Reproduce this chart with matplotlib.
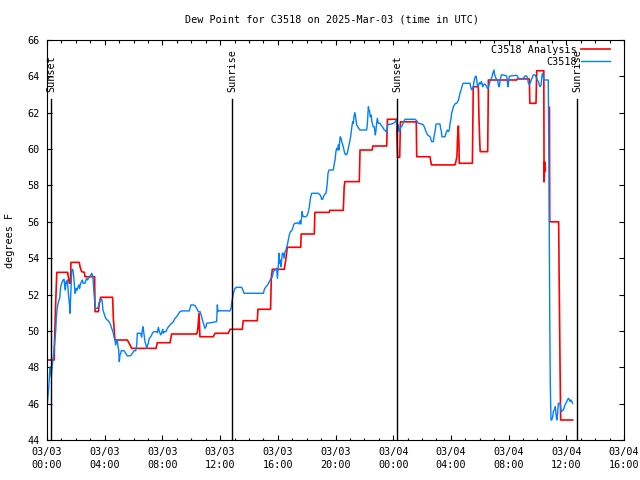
import numpy as np
import matplotlib
matplotlib.use('Agg')
import matplotlib.pyplot as plt
from matplotlib.ticker import MultipleLocator

# hours since 2025-03-03 00:00 UTC
analysis_hours = [0.0, 0.5, 0.52, 0.6, 0.68, 1.43, 1.55, 1.62, 1.66, 2.24, 2.29, 2.4, 2.59, 2.63, 3.3,
                  3.33, 3.56, 3.63, 3.72, 4.55, 4.6, 4.71, 5.57, 5.75, 5.87, 7.56, 7.65, 8.53, 8.64,
                  10.38, 10.45, 10.54, 10.6, 11.53, 11.65, 12.57, 12.69, 13.54, 13.6, 14.58, 14.62,
                  15.5, 15.55, 15.62, 16.45, 16.55, 16.66, 17.59, 17.62, 18.53, 18.57, 19.57, 19.6,
                  20.54, 20.6, 20.65, 21.65, 21.7, 22.55, 22.58, 23.55, 23.6, 24.24, 24.26, 24.3,
                  24.45, 24.5, 25.6, 25.63, 26.55, 26.65, 28.28, 28.32, 28.42, 28.46, 28.52, 28.56,
                  28.58, 29.49, 29.55, 29.9, 29.95, 30.0, 30.03, 30.55, 30.6, 32.56, 32.6, 33.44,
                  33.47, 33.9, 33.95, 34.44, 34.46, 34.5, 34.55, np.nan, 34.83, 34.85, 35.47, 35.5,
                  35.57, 35.61, 36.44]
analysis_vals = [48.4, 48.4, 49.4, 51.5, 53.22, 53.22, 52.62, 52.62, 53.77, 53.77, 53.53, 53.26, 53.22,
                 52.98, 52.98, 51.06, 51.06, 51.52, 51.85, 51.85, 50.69, 49.5, 49.5, 49.23, 49.04,
                 49.04, 49.35, 49.35, 49.83, 49.83, 50.05, 50.97, 49.68, 49.68, 49.87, 49.87, 50.09,
                 50.09, 50.56, 50.56, 51.19, 51.19, 52.9, 53.39, 53.39, 53.9, 54.6, 54.6, 55.33, 55.33,
                 56.52, 56.52, 56.63, 56.63, 57.9, 58.21, 58.21, 59.95, 59.95, 60.17, 60.17, 61.64,
                 61.64, 60.6, 59.55, 59.55, 61.5, 61.5, 59.58, 59.58, 59.13, 59.13, 59.22, 59.6, 60.6,
                 61.27, 60.2, 59.22, 59.22, 63.43, 63.43, 61.6, 60.4, 59.86, 59.86, 63.8, 63.8, 63.86,
                 63.86, 62.52, 62.52, 64.31, 64.31, 58.2, 59.3, 58.8, np.nan, 62.3, 56.0, 56.0, 53.26,
                 47.8, 45.1, 45.1]

obs_hours = [0.0, 0.07, 0.14, 0.21, 0.30, 0.35, 0.44, 0.53, 0.60, 0.65, 0.72, 0.83, 0.88, 0.95, 1.02,
             1.11, 1.18, 1.22, 1.27, 1.32, 1.36, 1.41, 1.46, 1.53, 1.57, 1.59, 1.64, 1.66, 1.71, 1.76,
             1.80, 1.85, 1.89, 1.94, 1.99, 2.03, 2.10, 2.15, 2.22, 2.26, 2.33, 2.40, 2.45, 2.50, 2.63,
             2.68, 2.75, 2.80, 2.87, 2.96, 3.05, 3.10, 3.14, 3.19, 3.26, 3.30, 3.37, 3.49, 3.56, 3.60,
             3.70, 3.79, 3.84, 3.88, 3.95, 4.07, 4.18, 4.30, 4.41, 4.48, 4.53, 4.60, 4.64, 4.71, 4.76,
             4.83, 4.88, 4.92, 4.97, 5.01, 5.06, 5.11, 5.15, 5.34, 5.45, 5.57, 5.80, 5.92, 6.03, 6.15,
             6.22, 6.26, 6.49, 6.56, 6.61, 6.65,
             6.75, 6.79, 6.86, 6.91, 6.98, 7.02, 7.09, 7.19, 7.26, 7.32, 7.42, 7.56, 7.65, 7.72, 7.79,
             7.88, 7.95, 8.02, 8.06, 8.13, 8.25, 8.34, 8.43, 8.53, 8.64, 8.76, 8.87, 8.99, 9.11, 9.22,
             9.34, 9.87, 9.91, 9.98, 10.14, 10.26, 10.38, 10.49, 10.61, 10.72, 10.84, 10.95, 11.02,
             11.07, 11.35, 11.76, 11.81, 11.85, 11.95, 12.69, 12.76, 12.80, 12.87, 12.92, 13.03, 13.15,
             13.49, 13.56, 13.66, 15.00, 15.07, 15.18, 15.30, 15.41, 15.53, 15.62, 15.69, 15.81, 15.92,
             15.97, 16.04, 16.08, 16.13, 16.18, 16.22, 16.27, 16.31, 16.38, 16.43, 16.50, 16.57, 16.61,
             16.66, 16.73, 16.80, 16.87, 16.96, 17.03, 17.10, 17.17, 17.31, 17.38, 17.47, 17.54, 17.59,
             17.63, 17.68, 17.72, 17.77, 17.95, 18.05, 18.12, 18.19, 18.23, 18.28, 18.35, 18.81, 18.93,
             18.99, 19.04, 19.11, 19.16, 19.27, 19.34, 19.39, 19.43, 19.48, 19.55, 19.85,
             19.90, 19.97, 20.03, 20.08, 20.15, 20.20, 20.24, 20.29, 20.33, 20.38, 20.43, 20.47, 20.54,
             20.61, 20.66, 20.77, 20.84, 20.89, 20.96, 21.05, 21.12, 21.19, 21.24, 21.28, 21.33, 21.37,
             21.42, 21.47, 21.54, 21.61, 21.70, 22.16, 22.21, 22.25, 22.28, 22.32, 22.37, 22.41, 22.46,
             22.51, 22.55, 22.62, 22.69, 22.76, 22.81, 22.85, 22.90, 22.97, 23.08, 23.15, 23.25, 23.32,
             23.38, 23.48, 23.55, 23.62, 23.69, 23.89, 24.08, 24.15, 24.19, 24.24, 24.31, 24.36, 24.42,
             24.47, 24.54, 24.61, 24.70, 24.82, 25.51, 25.63, 25.74, 25.97, 26.09, 26.20, 26.27, 26.39,
             26.55,
             26.67, 26.78, 26.83, 26.90, 26.97, 27.24, 27.29, 27.34, 27.38, 27.59, 27.66, 27.75, 27.82,
             27.89, 27.94, 28.01, 28.05, 28.12, 28.17, 28.24, 28.33, 28.40, 28.47, 28.52, 28.58, 28.63,
             28.70, 28.77, 28.82, 28.86, 29.32, 29.37, 29.42, 29.46, 29.55, 29.62, 29.69, 29.74, 29.79,
             29.83, 29.90, 29.95, 29.99, 30.06, 30.11, 30.16, 30.20, 30.25, 30.36, 30.48, 30.53, 30.59,
             30.66, 30.71, 30.80, 30.85, 30.90, 30.99, 31.03, 31.13, 31.24, 31.31, 31.36, 31.40, 31.45,
             31.50, 31.63, 31.87, 31.91, 31.96, 32.00, 32.05, 32.10, 32.56, 32.63, 32.70, 32.79, 33.02,
             33.14, 33.25, 33.32, 33.37, 33.44,
             33.53, 33.71, 33.83, 33.95, 33.99, 34.06, 34.13, 34.18, 34.25, 34.32, 34.36, 34.41, 34.45,
             34.75, 34.80, 34.85, 34.89, 34.94,
             34.99, 35.06, 35.10, 35.17, 35.24, 35.29, 35.34, 35.40, 35.45, 35.57, 35.64, 35.80, 35.91,
             36.03, 36.14, 36.21, 36.26, 36.33, 36.44]
obs_vals = [45.74, 46.38, 47.12, 48.03, 47.48, 48.03, 48.58, 49.32, 49.96, 50.78, 51.33, 51.70, 51.79,
            52.43, 52.62, 52.80, 52.84, 52.53, 52.25, 52.71, 52.62, 52.80, 52.25, 51.70, 51.33, 50.97,
            51.88, 52.25, 53.35, 53.39, 53.35, 52.98, 52.62, 52.07, 52.16, 52.34, 52.25, 52.43, 52.53,
            52.34, 52.62, 52.71, 52.80, 52.62, 52.62, 52.76, 52.89, 52.80, 52.89, 52.98, 53.08, 53.17,
            53.08, 52.89, 52.07, 51.70, 51.24, 51.24, 51.33, 51.52, 51.70, 51.75, 51.52, 51.15, 50.97,
            50.69, 50.60, 50.51, 50.33, 50.14, 50.05, 49.87, 49.68, 49.50, 49.23, 49.41, 49.50, 49.13,
            48.95, 48.31, 48.68, 48.77, 48.91, 48.91, 48.77, 48.62, 48.64, 48.77, 48.91, 48.91, 49.23,
            49.87, 49.87, 49.65, 50.05, 50.23,
            49.68, 49.41, 49.23, 49.04, 49.23, 49.32, 49.59, 49.68, 49.78, 49.90, 49.96, 49.96, 49.90,
            50.20, 49.96, 49.78, 49.90, 50.09, 49.87, 49.96, 49.96, 50.14, 50.23, 50.33, 50.42, 50.51,
            50.69, 50.78, 50.93, 51.06, 51.10, 51.10, 51.24, 51.43, 51.43, 51.39, 51.24, 51.06, 51.06,
            50.78, 50.42, 50.14, 50.23, 50.42, 50.45, 50.51, 51.43, 51.06, 51.11, 51.10, 51.24, 51.52,
            51.85, 52.07, 52.34, 52.40,
            52.40, 52.29, 52.07, 52.07, 52.29, 52.43, 52.53, 52.71, 52.89, 52.98, 53.26, 53.35, 53.44,
            52.89, 53.63, 54.27, 53.72, 53.90, 53.53, 53.90, 54.27, 54.27, 54.00, 54.36, 54.45, 54.60,
            54.73, 55.00, 55.28, 55.46, 55.50, 55.64, 55.83, 55.92, 55.92, 55.95, 55.88, 56.06, 55.88,
            56.10, 56.56, 56.38, 56.28, 56.28, 56.38, 56.56, 56.83, 57.11, 57.38, 57.57, 57.57, 57.48,
            57.38, 57.24, 57.24, 57.38, 57.53, 57.57, 57.84, 58.12, 58.67, 58.85, 58.85,
            59.13, 59.40, 59.86, 60.04, 59.95, 60.23, 59.95, 60.41, 60.68, 60.59, 60.41, 60.32, 60.13,
            59.86, 59.73, 59.68, 59.86, 60.04, 60.32, 60.68, 61.14, 61.51, 61.42, 61.78, 62.00, 61.88,
            61.60, 61.33, 61.23, 61.14, 61.05, 61.05, 61.42, 61.97, 62.33, 62.15, 62.06, 61.78, 61.88,
            61.60, 61.42, 61.23, 61.23, 60.78, 61.05, 61.42, 61.69, 61.42, 61.42, 61.33, 61.23, 61.14,
            61.05, 61.00, 60.90, 61.33, 61.36, 61.38, 61.45, 61.51, 61.60, 61.51, 61.05, 61.33, 60.96,
            61.05, 61.23, 61.27, 61.45, 61.64, 61.64, 61.56, 61.42, 61.38, 61.33, 61.14, 60.96, 60.78,
            60.68,
            60.41, 60.41, 60.68, 60.96, 61.38, 61.38, 61.14, 60.96, 60.68, 60.68, 60.87, 61.05, 60.96,
            61.05, 61.42, 61.69, 61.97, 62.15, 62.33, 62.43, 62.52, 62.52, 62.61, 62.70, 62.88, 63.07,
            63.25, 63.43, 63.58, 63.62, 63.62, 63.43, 63.29, 63.25, 63.43, 63.80, 63.98, 64.02, 63.80,
            63.53, 63.43, 63.62, 63.65, 63.58, 63.71, 63.62, 63.43, 63.53, 63.58, 63.43, 63.34, 63.34,
            63.58, 63.71, 63.89, 63.98, 64.17, 64.35, 64.08, 63.89, 63.76, 63.47, 63.43, 63.71, 63.89,
            64.08, 64.08, 64.02, 63.71, 63.43, 63.71, 63.98, 64.02, 64.06, 63.98, 63.89, 63.84, 63.89,
            64.02, 64.02, 63.89, 63.62, 63.53,
            63.71, 64.08, 64.08, 63.89, 63.80, 63.71, 63.53, 63.43, 63.53, 64.08, 64.17, 63.98, 63.80,
            63.80, 58.70, 51.00, 47.10, 45.10,
            45.10, 45.28, 45.56, 45.65, 45.83, 45.38, 45.10, 45.47, 46.02, 46.02, 45.56, 45.65, 45.93,
            46.11, 46.29, 46.24, 46.11, 46.20, 46.02]

sun_hours = [0.28, 12.82, 24.26, 36.74]
sun_names = ['Sunset', 'Sunrise', 'Sunset', 'Sunrise']
sun_line_top = 62.74

xtick_hours = list(range(0, 41, 4))
xtick_labels = ['03/03\n00:00', '03/03\n04:00', '03/03\n08:00', '03/03\n12:00', '03/03\n16:00',
                '03/03\n20:00', '03/04\n00:00', '03/04\n04:00', '03/04\n08:00', '03/04\n12:00',
                '03/04\n16:00']
yticks = list(range(44, 67, 2))

plt.rcParams['font.family'] = ['DejaVu Sans Mono']
plt.rcParams['font.size'] = 7.3

fig = plt.figure(figsize=(6.4, 4.8), dpi=100)
ax = fig.add_axes([47/640, 40/480, 577/640, 400/480])

for t, name in zip(sun_hours, sun_names):
	ax.plot([t, t], [44, sun_line_top], color='black', lw=1.0, zorder=3)
	ax.text(t, 63.14, name, rotation=90, ha='center', va='bottom')

ax.plot(analysis_hours, analysis_vals, color='#ff0000', lw=1.2, label='C3518 Analysis')
ax.plot(obs_hours, obs_vals, color='#0080ff', lw=1.0, label='C3518')

ax.set_xlim(0, 40)
ax.set_ylim(44, 66)
ax.set_xticks(xtick_hours)
ax.set_xticklabels(xtick_labels, linespacing=1.4)
ax.xaxis.set_minor_locator(MultipleLocator(1))
ax.set_yticks(yticks)
ax.set_yticklabels([str(y) for y in yticks])

ax.tick_params(which='both', direction='in', top=True, right=True, width=0.8)
ax.tick_params(which='major', length=3.6)
ax.tick_params(which='minor', length=1.8)
ax.tick_params(axis='x', pad=5)
ax.tick_params(axis='y', pad=5)
for s in ax.spines.values():
	s.set_linewidth(0.8)

leg = ax.legend(loc='upper right', bbox_to_anchor=(0.9757, 0.9875), frameon=False, markerfirst=False,
                handlelength=2.9, handletextpad=0.4, borderaxespad=0, borderpad=0, labelspacing=0.2)

fig.text(332/640, 1 - 19/480, 'Dew Point for C3518 on 2025-Mar-03 (time in UTC)', ha='center', va='center')
fig.text(10/640, 0.5, 'degrees F', rotation=90, ha='center', va='center')

plt.savefig('out.png', dpi=100)
